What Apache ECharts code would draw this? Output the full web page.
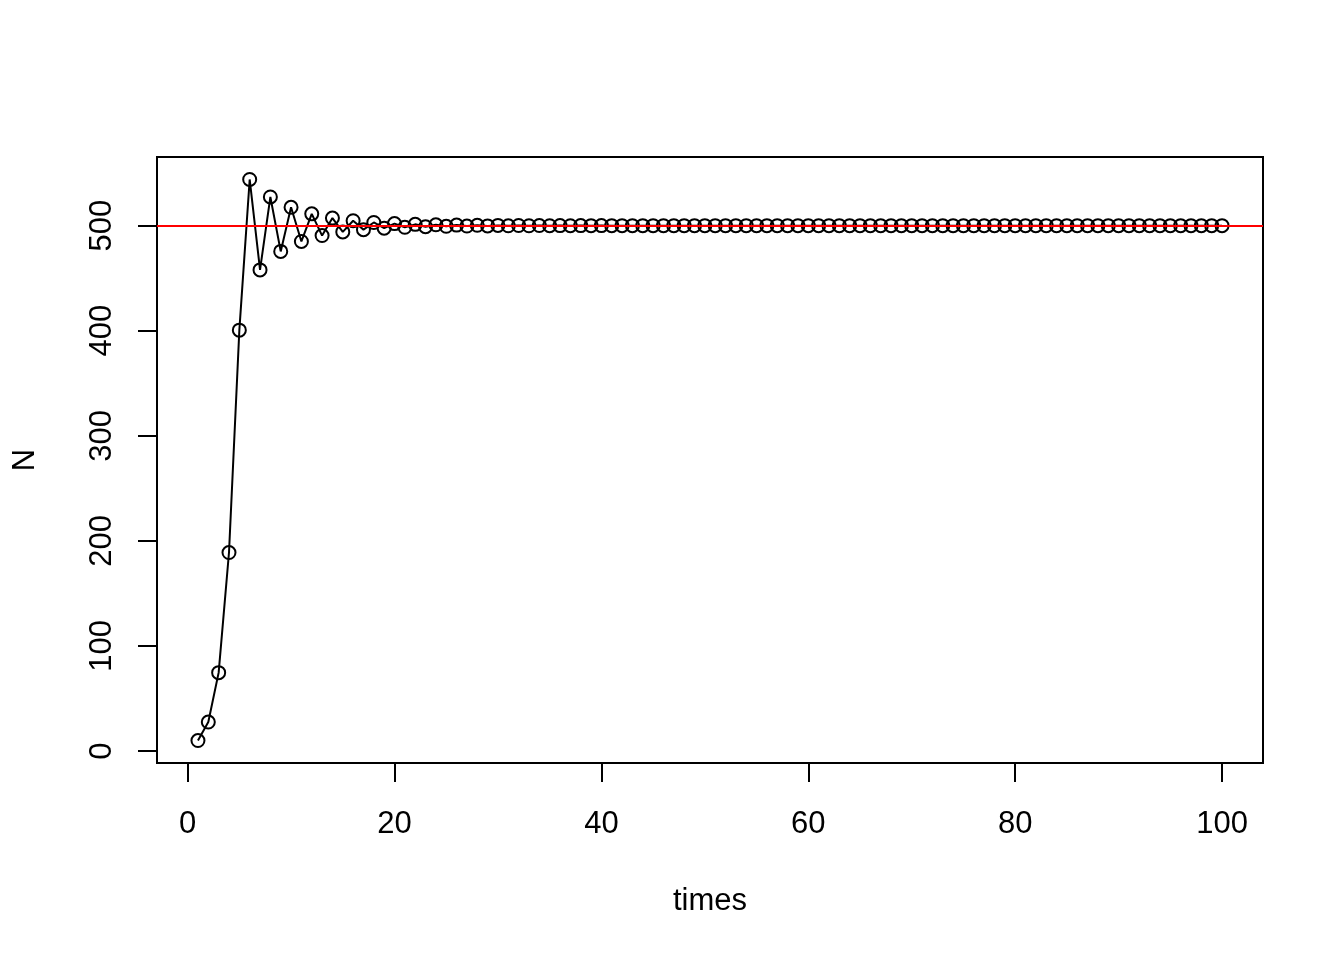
<!DOCTYPE html>
<html>
<head>
<meta charset="utf-8">
<script src="https://cdn.jsdelivr.net/npm/echarts@6/dist/echarts.min.js"></script>
<style>
html,body{margin:0;padding:0;background:#fff;}
#chart{width:1344px;height:960px;}
</style>
</head>
<body>
<div id="chart"></div>
<script>
var times = [];
for (var t = 1; t <= 100; t++) times.push(t);
var N = [
  10, 27.64, 74.64, 188.94, 400.52, 543.96, 457.88, 527.31, 475.47, 517.46,
  484.94, 511.24, 490.56, 507.23, 494.03, 504.65, 496.20, 502.99, 497.58, 501.92,
  498.45, 501.23, 499.01, 500.79, 499.37, 500.50, 499.60, 500.32, 499.74, 500.21,
  499.83, 500.13, 499.89, 500.09, 499.93, 500.05, 499.96, 500.03, 499.97, 500.02,
  500, 500, 500, 500, 500, 500, 500, 500, 500, 500,
  500, 500, 500, 500, 500, 500, 500, 500, 500, 500,
  500, 500, 500, 500, 500, 500, 500, 500, 500, 500,
  500, 500, 500, 500, 500, 500, 500, 500, 500, 500,
  500, 500, 500, 500, 500, 500, 500, 500, 500, 500,
  500, 500, 500, 500, 500, 500, 500, 500, 500, 500
];
var K = 500;
var xTicks = [0, 20, 40, 60, 80, 100];
var yTicks = [0, 100, 200, 300, 400, 500];
var xLabel = 'times';
var yLabel = 'N';

var xMin = 1, xMax = 100;
var xPad = (xMax - xMin) * 0.04;
var yMinD = Math.min.apply(null, N), yMaxD = Math.max.apply(null, N);
var yPad = (yMaxD - yMinD) * 0.04;

var font = "'Liberation Sans', Arial, sans-serif";
var chart = echarts.init(document.getElementById('chart'), null, {renderer: 'canvas'});
chart.setOption({
  animation: false,
  backgroundColor: '#ffffff',
  grid: {
    left: 157, right: 81, top: 157, bottom: 197,
    show: true, borderColor: '#000', borderWidth: 2, backgroundColor: 'transparent'
  },
  xAxis: {
    type: 'value',
    min: xMin - xPad, max: xMax + xPad,
    axisLine: {show: false, onZero: false},
    splitLine: {show: false},
    axisTick: {show: true, inside: false, length: 19, customValues: xTicks, lineStyle: {color: '#000', width: 2}},
    axisLabel: {show: true, customValues: xTicks, margin: 46, fontSize: 31, color: '#000', fontFamily: font}
  },
  yAxis: {
    type: 'value',
    min: yMinD - yPad, max: yMaxD + yPad,
    axisLine: {show: false, onZero: false},
    splitLine: {show: false},
    axisTick: {show: true, inside: false, length: 19, customValues: yTicks, lineStyle: {color: '#000', width: 2}},
    axisLabel: {show: true, customValues: yTicks, rotate: 90, margin: 39, fontSize: 31, color: '#000', fontFamily: font}
  },
  graphic: [
    {type: 'text', x: 710, y: 901, silent: true,
     style: {text: xLabel, fontSize: 31, fontFamily: font, fill: '#000', align: 'center', verticalAlign: 'middle'}},
    {type: 'text', x: 25, y: 460, rotation: Math.PI / 2, silent: true,
     style: {text: yLabel, fontSize: 31, fontFamily: font, fill: '#000', align: 'center', verticalAlign: 'middle'}}
  ],
  series: [
    {
      type: 'line',
      data: times.map(function (t, i) { return [t, N[i]]; }),
      symbol: 'circle',
      symbolSize: 13,
      showAllSymbol: true,
      silent: true,
      itemStyle: {color: 'transparent', borderColor: '#000', borderWidth: 2},
      lineStyle: {color: '#000', width: 2},
      z: 2
    },
    {
      type: 'line',
      data: [],
      silent: true,
      z: 5,
      markLine: {
        silent: true,
        symbol: ['none', 'none'],
        label: {show: false},
        lineStyle: {color: '#ff0000', width: 2, type: 'solid'},
        data: [{yAxis: K}]
      }
    }
  ]
});
</script>
</body>
</html>
